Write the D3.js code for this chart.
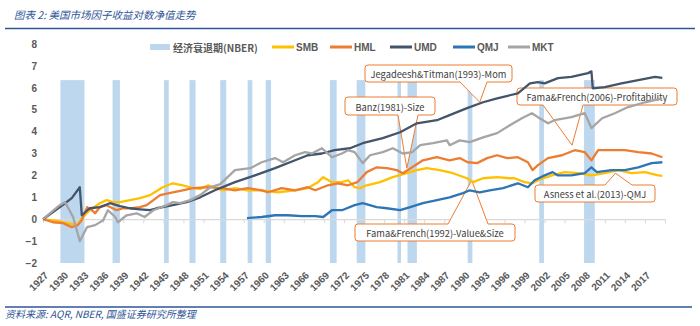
<!DOCTYPE html>
<html><head><meta charset="utf-8">
<script src="https://cdn.jsdelivr.net/npm/d3@7/dist/d3.min.js"></script>
<style>
html,body{margin:0;padding:0;background:#fff;}
svg{display:block;}
</style></head>
<body>
<svg id="chart" width="700" height="326"></svg>
<script>
// ---------------- DATA ----------------
const titleText = "图表 2: 美国市场因子收益对数净值走势";
const sourceText = "资料来源: AQR, NBER, 国盛证券研究所整理";
const yTicks = [-2, -1, 0, 1, 2, 3, 4, 5, 6, 7, 8];
const xTickYears = d3.range(1927, 2021, 3);
const xTickLabels = ["1927","1930","1933","1936","1939","1942","1945","1948","1951","1954","1957","1960","1963","1966","1969","1972","1975","1978","1981","1984","1987","1990","1993","1996","1999","2002","2005","2008","2011","2014","2017"];

// NBER recessions [start, end] (year fractions)
const recessionStart = [1929.6, 1937.4, 1945.1, 1948.9, 1953.5, 1957.6, 1960.3, 1969.9, 1973.9, 1980.0, 1981.5, 1990.5, 2001.2, 2007.9];
const recessionEnd   = [1933.2, 1938.5, 1945.8, 1949.8, 1954.4, 1958.3, 1961.1, 1970.9, 1975.2, 1980.5, 1982.9, 1991.2, 2001.9, 2009.5];
const recessionTop = 6.35;

const smbYears = [1927,1928.5,1929.5,1931,1932.2,1932.8,1934,1935.5,1936.5,1937.5,1938.5,1940,1941.5,1943,1943.7,1944.9,1946.4,1947.9,1949.4,1950.5,1951.7,1953.8,1955.7,1957.6,1959.7,1962.1,1964.7,1966.6,1968.1,1968.9,1970.2,1971.7,1972.6,1973.6,1974.4,1975.4,1977.4,1979.3,1981.4,1982.9,1984.4,1986.3,1988.3,1990.4,1991.3,1992.8,1994.9,1996.8,1997.5,1999,2000.2,2001,2003.1,2005,2007,2009,2011,2013,2015,2017,2019,2019.6];
const smbValues = [0,-0.05,-0.1,-0.2,-0.25,0.05,0.41,0.73,0.87,0.78,0.78,0.87,0.96,1.1,1.23,1.46,1.64,1.55,1.42,1.38,1.55,1.32,1.42,1.32,1.32,1.23,1.32,1.42,1.69,1.92,1.69,1.69,1.78,1.46,1.42,1.55,1.69,1.92,2.1,2.24,2.33,2.24,2.1,1.87,1.69,1.87,1.92,1.87,1.87,1.69,1.64,1.78,2.0,2.15,2.1,2.0,2.1,2.24,2.1,2.15,2.0,1.98];

const hmlYears = [1927,1928.5,1930,1931.3,1932.2,1932.8,1933.6,1934.3,1934.8,1935.5,1936.5,1938,1939,1940.3,1941.5,1942.5,1943.5,1944.5,1946.4,1947.9,1949.4,1951.7,1953.8,1955.7,1957.6,1959.7,1960.6,1962.7,1964.7,1966.6,1967.7,1969.6,1971.1,1972.6,1974,1975.4,1976.9,1978.4,1979.9,1980.8,1982.2,1983.8,1985.9,1987.8,1989.3,1990.5,1991.9,1993.4,1994.9,1996.4,1998,1999.5,2000.2,2001,2002.5,2004.6,2006.5,2008,2009,2010,2012,2014,2016,2018,2019.6];
const hmlValues = [0,-0.14,-0.18,-0.36,-0.27,-0.05,0.55,0.41,0.27,0.55,0.64,0.41,0.5,0.5,0.55,0.64,0.87,1.1,1.23,1.32,1.42,1.46,1.42,1.32,1.42,1.32,1.23,1.42,1.32,1.46,1.32,1.55,1.64,1.55,1.69,2.15,2.37,2.33,2.24,2.1,2.37,2.69,2.83,2.69,2.79,2.6,2.56,2.79,2.92,2.79,2.83,2.6,2.24,2.47,2.79,2.92,3.15,3.06,2.69,3.15,3.15,3.15,3.06,3.0,2.83];

const umdYears = [1927,1930.3,1931.3,1932.5,1932.8,1934,1935.5,1937,1938.5,1940,1941.5,1943,1944,1946.4,1948.5,1950.5,1952.7,1955.7,1958.7,1961.7,1964.7,1966.6,1968.7,1970.6,1972.9,1974.8,1977.8,1980.4,1982.9,1985.9,1987.8,1990.4,1992.8,1994.9,1996.8,1998,1999.8,2001,2002,2004,2006,2008.5,2009,2009.2,2011,2013.5,2016,2018.5,2019.6];
const umdValues = [0,0.73,0.96,1.46,0.18,0.5,0.55,0.73,0.6,0.5,0.45,0.41,0.5,0.64,0.78,1.0,1.32,1.69,2.0,2.33,2.69,2.92,3.0,3.15,3.24,3.47,3.7,3.97,4.38,4.52,4.75,5.07,5.34,5.52,5.66,5.75,6.2,6.26,6.2,6.44,6.5,6.67,6.75,5.98,6.03,6.2,6.35,6.5,6.45];

const qmjYears = [1957.5,1959.7,1961.7,1963.6,1965.7,1967.7,1968.9,1970.2,1971.7,1973.6,1974.8,1976.9,1978.4,1980.4,1981.9,1983.8,1985.9,1987.8,1989.8,1990.8,1992.3,1993.8,1995.8,1998,1999.5,2000.5,2002,2003.2,2004,2006,2008,2009,2009.8,2012,2014,2016,2018,2019.6];
const qmjValues = [0.05,0.1,0.18,0.18,0.14,0.14,0.1,0.41,0.41,0.64,0.73,0.55,0.5,0.41,0.55,0.73,0.87,1.0,1.19,1.32,1.23,1.32,1.42,1.64,1.46,1.78,2.0,2.15,2.0,2.0,2.1,2.37,2.15,2.24,2.24,2.37,2.56,2.6];

const mktYears = [1927,1929.5,1930.3,1931.5,1932.5,1933.6,1934.8,1936,1936.7,1937.8,1938.2,1939.5,1941,1942.2,1943.5,1945.5,1946.4,1947.5,1949,1950.5,1952,1953.5,1955.7,1958,1959.7,1961.7,1962.9,1964.7,1966.2,1967.2,1968.7,1970.2,1971.7,1972.6,1973.6,1974.8,1975.9,1977.8,1979.3,1980.8,1982.2,1983.4,1985.3,1987.4,1987.8,1989.3,1990.8,1992.8,1994.9,1996.8,1998.6,2000.1,2001,2002.5,2003.5,2006,2008,2009,2010.6,2012.5,2014.4,2017,2019.6];
const mktValues = [0,0.64,0.78,0.1,-1.0,-0.36,-0.27,-0.05,0.41,0.1,-0.14,0.18,0.27,0.1,0.41,0.64,0.78,0.73,0.87,1.1,1.46,1.6,2.24,2.33,2.6,2.79,2.6,2.92,3.06,3.0,3.24,2.83,3.0,3.15,3.06,2.56,2.92,3.06,3.24,3.0,3.06,3.38,3.47,3.6,3.38,3.6,3.52,3.74,3.93,4.29,4.61,4.84,4.66,4.38,4.52,4.66,4.84,4.16,4.61,4.84,5.11,5.34,5.52];

const seriesNames = ["SMB", "HML", "UMD", "QMJ", "MKT"];
const seriesColors = ["#FFC000", "#ED7D31", "#44546A", "#2E75B6", "#A5A5A5"];
const recessionLabel = "经济衰退期(NBER)";
const recessionColor = "#BDD7EE";

// annotations: text, target (year, value)
const annoTexts = ["Jegadeesh&Titman(1993)-Mom", "Banz(1981)-Size", "Fama&French(2006)-Profitability", "Fama&French(1992)-Value&Size", "Asness et al.(2013)-QMJ"];
const annoYears = [1992.3, 1981.4, 2006.1, 1991.1, 2012.6];
const annoValues = [5.34, 2.33, 3.38, 1.78, 2.1];

// ---------------- LAYOUT ----------------
const svg = d3.select("#chart");
const x = d3.scaleLinear().domain([1927, 2020]).range([43, 665]);
const y = d3.scaleLinear().domain([-2, 8]).range([263, 44]);
const numFont = "'Liberation Sans', Arial, 'Noto Sans CJK SC', sans-serif";
const cjkFont = "'Noto Sans CJK SC', 'Noto Sans', sans-serif";
const axisColor = "#595959";

// title
svg.append("text").attr("x", 14).attr("y", 19).attr("font-family", cjkFont)
  .attr("font-size", 10.5).attr("font-style", "italic").attr("fill", "#2F5597").text(titleText);
svg.append("line").attr("x1", 5).attr("x2", 695).attr("y1", 28.5).attr("y2", 28.5)
  .attr("stroke", "#2F5597").attr("stroke-width", 1.6);

// recessions
svg.append("g").selectAll("rect").data(recessionStart).join("rect")
  .attr("x", (d) => x(d))
  .attr("width", (d, i) => Math.max(3.5, x(recessionEnd[i]) - x(d)))
  .attr("y", y(recessionTop))
  .attr("height", y(-2) - y(recessionTop))
  .attr("fill", recessionColor);

// x axis line at 0
const xAxisG = svg.append("g").attr("transform", `translate(0,${y(0)})`);
xAxisG.call(d3.axisBottom(x).tickValues(xTickYears).tickFormat("").tickSize(4).tickSizeOuter(0));
xAxisG.select(".domain").attr("stroke", "#D9D9D9").attr("stroke-width", 1.3);
xAxisG.selectAll(".tick line").attr("stroke", "#D9D9D9");

// x tick labels at bottom (rotated 45 degrees)
svg.append("g").selectAll("text").data(xTickLabels).join("text")
  .attr("transform", (d) => `translate(${x(+d) + 1},${y(-2) + 8}) rotate(-45)`)
  .attr("x", 0).attr("y", 0).attr("dy", "0.7em")
  .attr("text-anchor", "end")
  .attr("font-family", numFont).attr("font-weight", "bold").attr("font-size", 10)
  .attr("fill", axisColor).text((d) => d);

// y axis labels
const yAxisG = svg.append("g").attr("transform", `translate(37,0)`);
yAxisG.call(d3.axisLeft(y).tickValues(yTicks).tickSize(0).tickPadding(0));
yAxisG.select(".domain").remove();
yAxisG.selectAll("text").attr("font-family", numFont).attr("font-weight", "bold")
  .attr("font-size", 10).attr("fill", axisColor);

// callouts (under the lines)
const boxes = [
  {x0: 365, y0: 65, x1: 512, y1: 82, side: "bottom", b0: 460, b1: 487},
  {x0: 345, y0: 97, x1: 435, y1: 115, side: "bottom", b0: 398, b1: 418},
  {x0: 517, y0: 88, x1: 677, y1: 105, side: "bottom", b0: 543, b1: 583},
  {x0: 355, y0: 224, x1: 515, y1: 241, side: "top", b0: 448, b1: 488},
  {x0: 535, y0: 185, x1: 655, y1: 202, side: "top", b0: 605, b1: 632}
];
function calloutPath(b, ax, ay) {
  const r = 3;
  const p = d3.path();
  p.moveTo(b.x0 + r, b.y0);
  if (b.side === "top") { p.lineTo(b.b0, b.y0); p.lineTo(ax, ay); p.lineTo(b.b1, b.y0); }
  p.lineTo(b.x1 - r, b.y0);
  p.quadraticCurveTo(b.x1, b.y0, b.x1, b.y0 + r);
  p.lineTo(b.x1, b.y1 - r);
  p.quadraticCurveTo(b.x1, b.y1, b.x1 - r, b.y1);
  if (b.side === "bottom") { p.lineTo(b.b1, b.y1); p.lineTo(ax, ay); p.lineTo(b.b0, b.y1); }
  p.lineTo(b.x0 + r, b.y1);
  p.quadraticCurveTo(b.x0, b.y1, b.x0, b.y1 - r);
  p.lineTo(b.x0, b.y0 + r);
  p.quadraticCurveTo(b.x0, b.y0, b.x0 + r, b.y0);
  p.closePath();
  return p.toString();
}
const annoG = svg.append("g");
annoTexts.forEach((t, i) => {
  const b = boxes[i];
  annoG.append("path").attr("d", calloutPath(b, x(annoYears[i]), y(annoValues[i])))
    .attr("fill", "#fff").attr("stroke", "#ED7D31").attr("stroke-width", 1);
  annoG.append("text").attr("x", (b.x0 + b.x1) / 2).attr("y", (b.y0 + b.y1) / 2 + 0.5)
    .attr("text-anchor", "middle").attr("dominant-baseline", "central")
    .attr("font-family", cjkFont).attr("font-size", 9.3).attr("fill", "#404040").text(t);
});

// lines
const yearsArr = [smbYears, hmlYears, umdYears, qmjYears, mktYears];
const valuesArr = [smbValues, hmlValues, umdValues, qmjValues, mktValues];
const line = d3.line().x((d) => x(d[0])).y((d) => y(d[1]));
seriesNames.forEach((name, i) => {
  const pts = yearsArr[i].map((yr, j) => [yr, valuesArr[i][j]]);
  svg.append("path").datum(pts).attr("d", line).attr("fill", "none")
    .attr("stroke", seriesColors[i]).attr("stroke-width", 2.3).attr("stroke-linejoin", "round");
});

// legend
const legendY = 47;
const leg = svg.append("g");
leg.append("rect").attr("x", 150).attr("y", legendY - 3).attr("width", 20).attr("height", 6).attr("fill", recessionColor);
leg.append("text").attr("x", 173).attr("y", legendY).attr("dominant-baseline", "central")
  .attr("font-family", cjkFont).attr("font-size", 10).attr("font-weight", "bold").attr("fill", axisColor).text(recessionLabel);
const legX = [272, 330, 390, 453, 508];
seriesNames.forEach((name, i) => {
  leg.append("line").attr("x1", legX[i]).attr("x2", legX[i] + 22).attr("y1", legendY).attr("y2", legendY)
    .attr("stroke", seriesColors[i]).attr("stroke-width", 3);
  leg.append("text").attr("x", legX[i] + 24).attr("y", legendY).attr("dominant-baseline", "central")
    .attr("font-family", numFont).attr("font-size", 10).attr("font-weight", "bold").attr("fill", axisColor).text(name);
});

// footer
svg.append("line").attr("x1", 5).attr("x2", 692).attr("y1", 307).attr("y2", 307)
  .attr("stroke", "#2F5597").attr("stroke-width", 1.6);
svg.append("text").attr("x", 5).attr("y", 318).attr("font-family", cjkFont)
  .attr("font-size", 10).attr("font-style", "italic").attr("fill", "#2F5597").text(sourceText);
</script>
</body></html>
